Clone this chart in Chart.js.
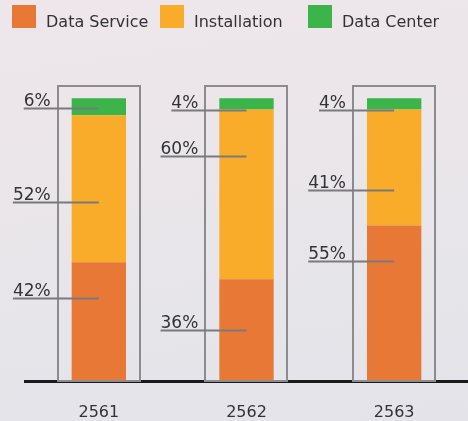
<!DOCTYPE html>
<html>
<head>
<meta charset="utf-8">
<script src="https://cdn.jsdelivr.net/npm/chart.js@4"></script>
<style>
  html, body { margin: 0; padding: 0; }
  body {
    width: 468px; height: 421px; overflow: hidden;
    background: linear-gradient(172deg, #eee6ea 0%, #ebe6ea 35%, #e6e5ea 70%, #e3e3e9 100%);
  }
  #wrap { position: relative; width: 468px; height: 421px; }
</style>
</head>
<body>
<div id="wrap"><canvas id="chart"></canvas></div>
<script>
var years = ["2561", "2562", "2563"];
var dataService = [42, 36, 55];
var installation = [52, 60, 41];
var dataCenter = [6, 4, 4];

// height (in percent units) where each callout line meets its bar
var calloutService = [29.3, 18, 42.4];
var calloutInstall = [63.3, 79.5, 67.5];
var calloutCenter = [96.5, 95.8, 95.8];

var FONT = "'DejaVu Sans', sans-serif";

// Grey frame round each bar, the value callouts and the legend row
var calloutPlugin = {
  id: "callouts",
  afterDatasetsDraw: function (chart) {
    var ctx = chart.ctx;
    var yScale = chart.scales.y;
    var base = yScale.getPixelForValue(0);
    var top = yScale.getPixelForValue(104.2);

    ctx.save();
    // frames
    chart.getDatasetMeta(0).data.forEach(function (bar) {
      var half = bar.width / 2 + 14;
      ctx.strokeStyle = "#8c8c90";
      ctx.lineWidth = 2;
      ctx.strokeRect(Math.round(bar.x - half), Math.round(top), Math.round(half * 2), base - Math.round(top));
    });

    var values = [dataService, installation, dataCenter];
    var spots = [calloutService, calloutInstall, calloutCenter];
    ctx.font = "17px " + FONT;
    ctx.textBaseline = "alphabetic";
    values.forEach(function (vals, d) {
      chart.getDatasetMeta(d).data.forEach(function (bar, i) {
        var label = vals[i] + "%";
        var right = bar.x - bar.width / 2 - 21;
        var w = ctx.measureText(label).width;
        var y = Math.round(yScale.getPixelForValue(spots[d][i])) + 0.5;
        ctx.fillStyle = "#333333";
        ctx.fillText(label, right - w, y - 3);
        ctx.strokeStyle = "#7a7a7e";
        ctx.lineWidth = 2;
        ctx.beginPath();
        ctx.moveTo(right - w, y);
        ctx.lineTo(bar.x, y);
        ctx.stroke();
      });
    });

    // legend: one entry per column, lined up with the bars
    ctx.font = "16px " + FONT;
    chart.data.datasets.forEach(function (ds, d) {
      var x = Math.round(chart.scales.x.getPixelForValue(d) - 86.5);
      ctx.fillStyle = ds.backgroundColor;
      ctx.fillRect(x, 5, 24, 23);
      ctx.fillStyle = "#333333";
      ctx.fillText(ds.label, x + 34, 27);
    });
    ctx.restore();
  }
};

var ctx = document.getElementById("chart");
var chart = new Chart(ctx, {
  type: "bar",
  data: {
    labels: years,
    datasets: [{
      label: "Data Service",
      data: dataService,
      backgroundColor: "#e87835"
    }, {
      label: "Installation",
      data: installation,
      backgroundColor: "#f9ac2a"
    }, {
      label: "Data Center",
      data: dataCenter,
      backgroundColor: "#3bb54a"
    }]
  },
  options: {
    responsive: true,
    maintainAspectRatio: false,
    animation: false,
    categoryPercentage: 1,
    barPercentage: 0.368,
    layout: {
      padding: { left: 25, right: -5, top: 70, bottom: 0 }
    },
    plugins: {
      legend: { display: false },
      tooltip: { enabled: false }
    },
    scales: {
      x: {
        stacked: true,
        grid: { display: false },
        border: { color: "#1a1a1a", width: 3 },
        ticks: {
          color: "#333333",
          padding: 14,
          font: { family: FONT, size: 16 }
        },
        afterFit: function (scale) { scale.height = 40; }
      },
      y: {
        stacked: true,
        display: false,
        min: 0,
        max: 110
      }
    }
  },
  plugins: [calloutPlugin]
});
</script>
</body>
</html>
